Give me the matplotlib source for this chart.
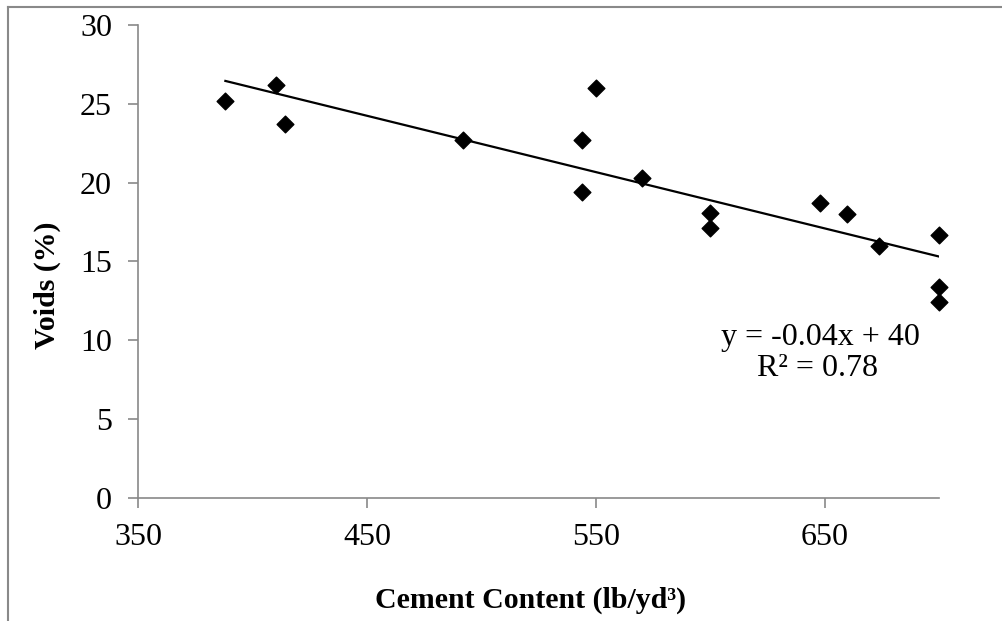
import numpy as np
import matplotlib.pyplot as plt
from matplotlib.lines import Line2D

# Cement content (lb/yd3) and voids (%)
cement = [388, 410, 414, 492, 544, 544, 550, 570, 600, 600, 648, 660, 674, 700, 700, 700]
voids = [25.2, 26.2, 23.7, 22.7, 22.7, 19.4, 26.0, 20.3, 18.1, 17.1, 18.7, 18.0, 16.0, 16.7, 13.4, 12.4]

x_ticks = [350, 450, 550, 650]
y_ticks = [0, 5, 10, 15, 20, 25, 30]

plt.rcParams['font.family'] = ['Liberation Serif', 'DejaVu Serif']

fig = plt.figure(figsize=(10.02, 6.21), dpi=100)
ax = fig.add_axes([0.1382, 0.1985, 0.937 - 0.1382, 0.9597 - 0.1985])

ax.scatter(cement, voids, marker='D', s=8.5 ** 2, color='black', zorder=3, clip_on=False)

# linear trendline
slope, intercept = np.polyfit(cement, voids, 1)
xs = np.array([min(cement), max(cement)])
ax.plot(xs, slope * xs + intercept, color='black', linewidth=1.6, zorder=2)

ax.set_xlim(350, 700)
ax.set_ylim(0, 30)
ax.set_xticks(x_ticks)
ax.set_yticks(y_ticks)
ax.tick_params(axis='both', labelsize=23, color='#898989', length=7, width=1.2, direction='out')
ax.tick_params(axis='x', pad=11)
ax.tick_params(axis='y', pad=12)
for side in ['top', 'right']:
    ax.spines[side].set_visible(False)
for side in ['left', 'bottom']:
    ax.spines[side].set_color('#898989')
    ax.spines[side].set_linewidth(1.2)

fig.text(0.53, 0.034, 'Cement Content (lb/yd³)', ha='center', va='center',
         fontsize=21.5, fontweight='bold')
fig.text(0.047, 0.541, 'Voids (%)', ha='center', va='center', rotation=90,
         fontsize=21.5, fontweight='bold')

ax.text(648, 10.2, 'y = -0.04x + 40', ha='center', va='center', fontsize=23)
ax.text(647, 8.2, 'R² = 0.78', ha='center', va='center', fontsize=23)

# partial frame around the chart area (top and left edges)
fig.add_artist(Line2D([0.008, 1.0], [1 - 7 / 621, 1 - 7 / 621], transform=fig.transFigure,
                      color='#898989', linewidth=1.5))
fig.add_artist(Line2D([0.008, 0.008], [0.0, 1 - 7 / 621], transform=fig.transFigure,
                      color='#898989', linewidth=1.5))

fig.savefig('out.png', dpi=100)
